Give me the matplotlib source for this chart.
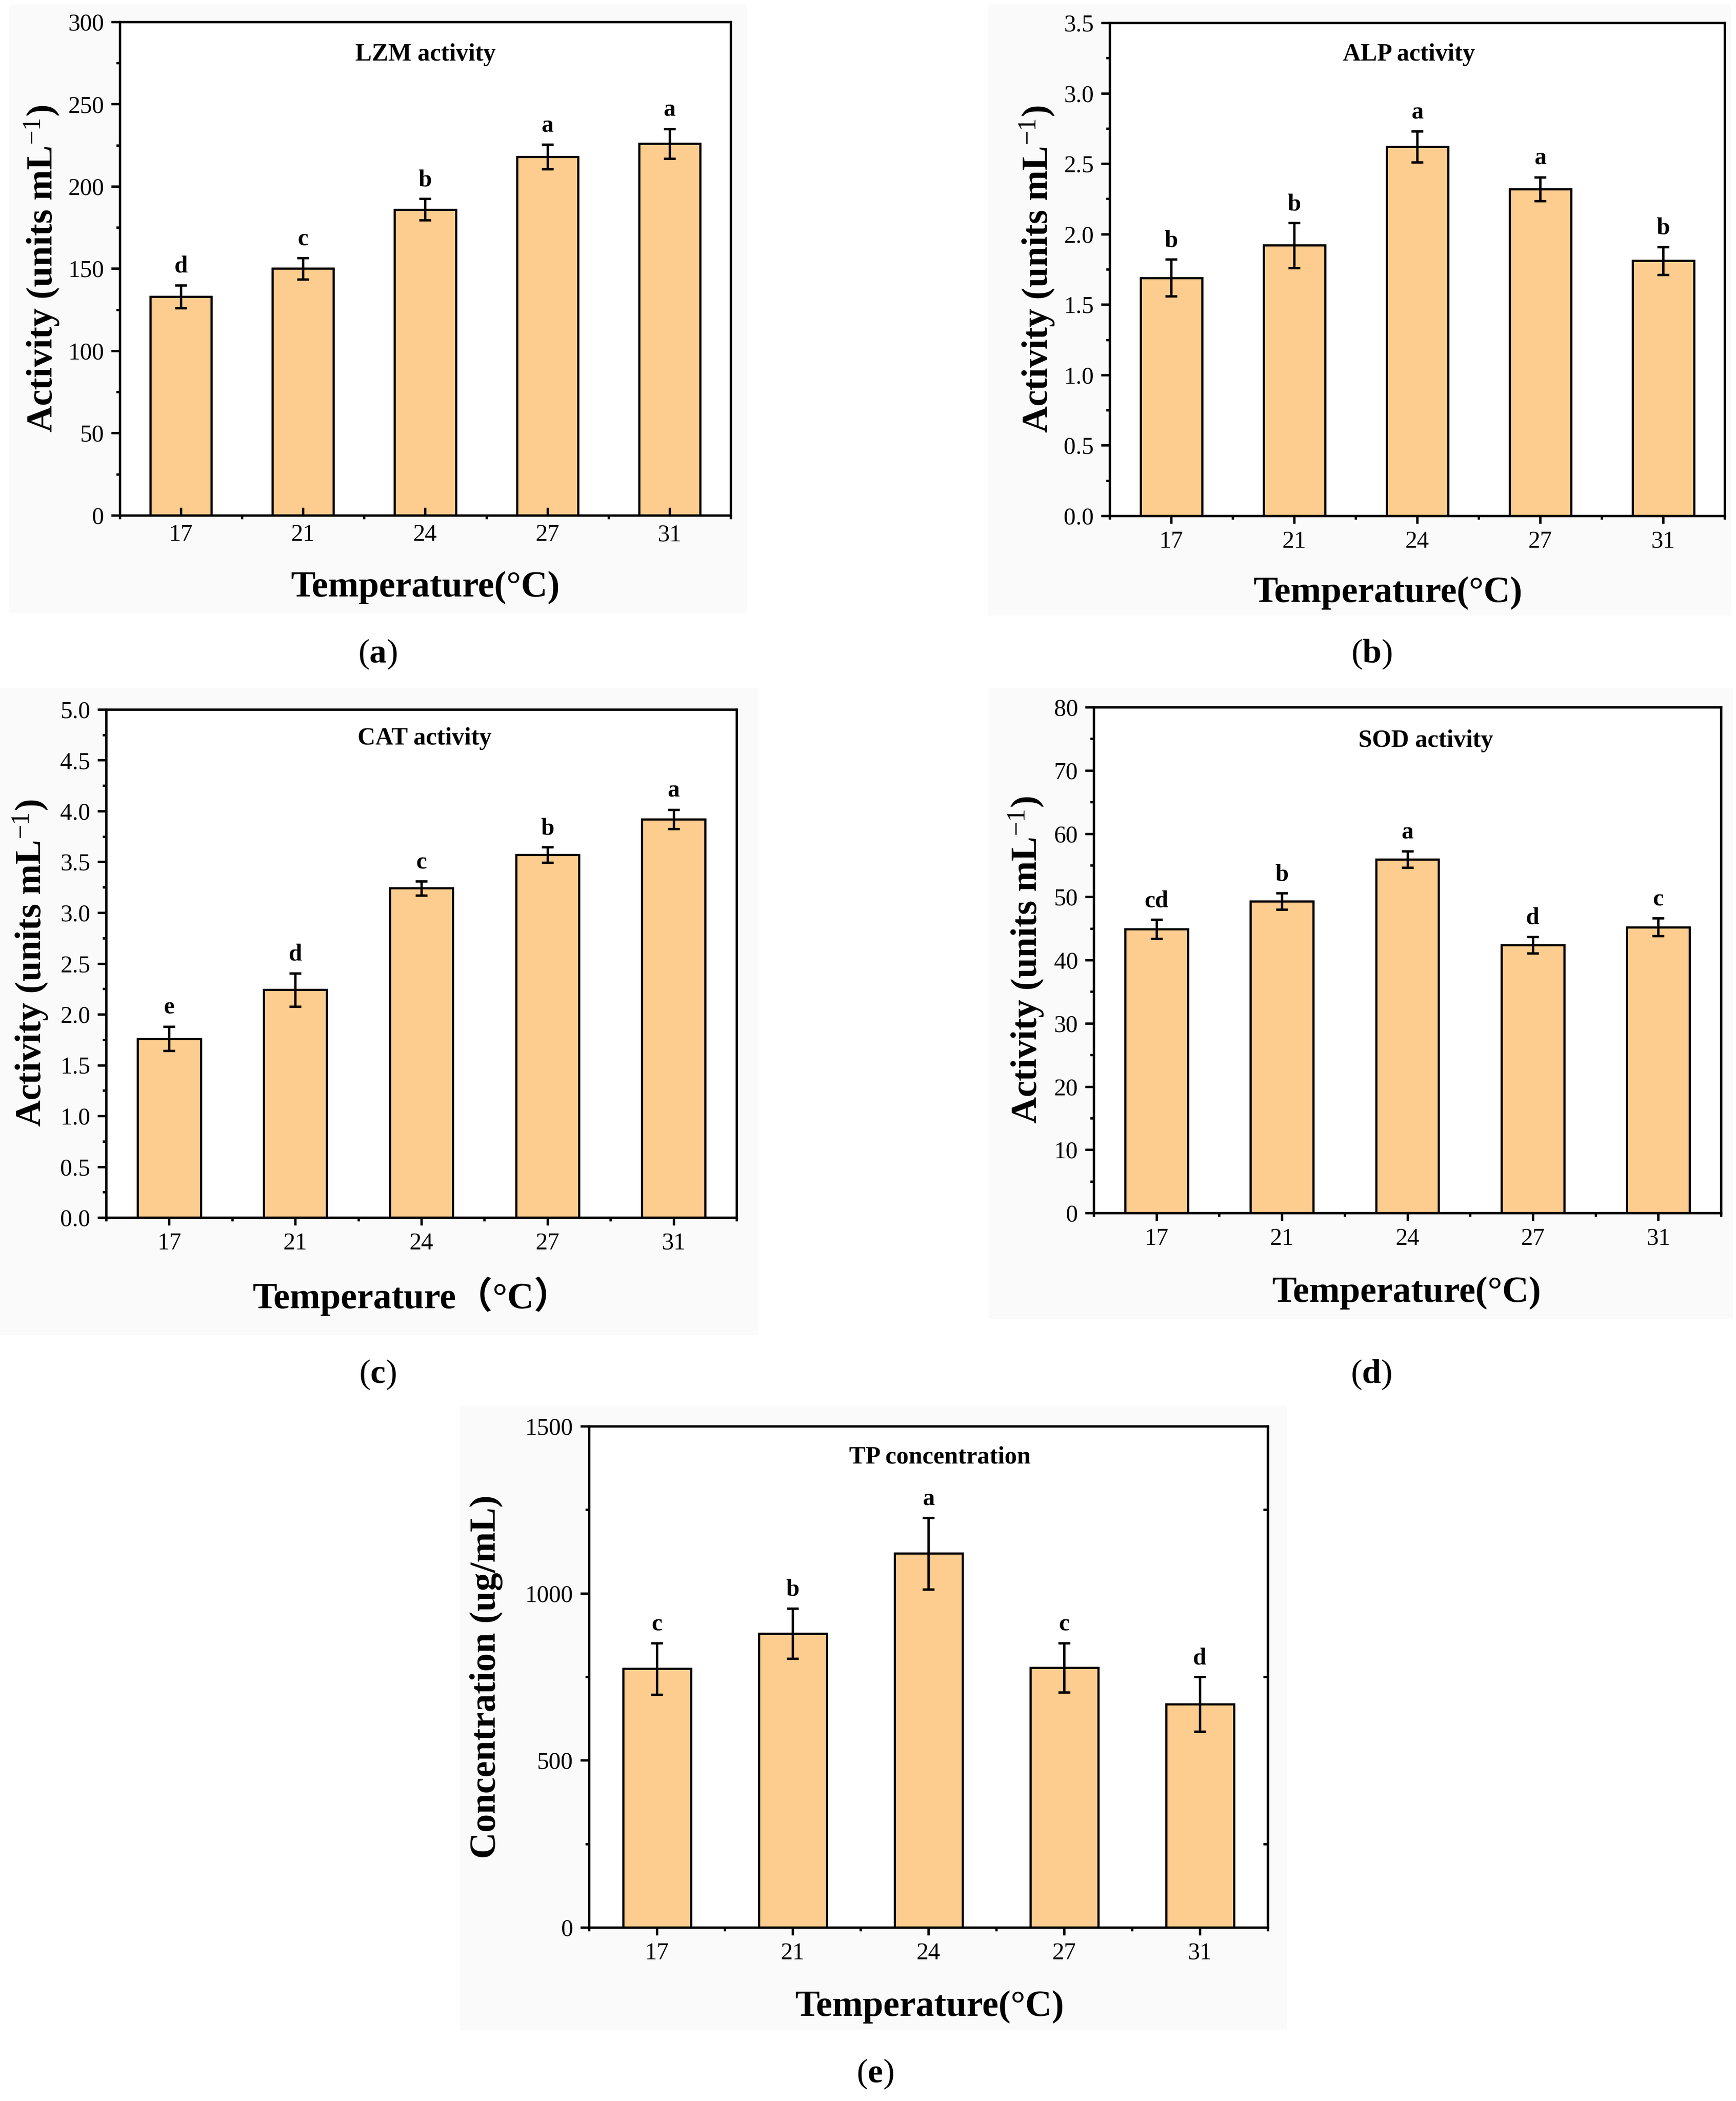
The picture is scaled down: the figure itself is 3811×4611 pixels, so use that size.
import numpy as np
import matplotlib.pyplot as plt
from matplotlib.ticker import MultipleLocator, FixedLocator, FormatStrFormatter
from matplotlib.patches import Rectangle

plt.rcParams['font.family'] = ['Liberation Serif', 'Noto Sans CJK SC']
plt.rcParams['mathtext.fontset'] = 'custom'
plt.rcParams['mathtext.rm'] = 'Liberation Serif'
plt.rcParams['mathtext.bf'] = 'Liberation Serif:bold'
plt.rcParams['mathtext.it'] = 'Liberation Serif:italic'

# data
temps = ['17', '21', '24', '27', '31']

lzm_mean = [133, 150, 186, 218, 226]
lzm_err = [7, 6.5, 6.5, 7.5, 9]
lzm_letters = ['d', 'c', 'b', 'a', 'a']

alp_mean = [1.69, 1.92, 2.62, 2.32, 1.81]
alp_err = [0.13, 0.16, 0.11, 0.085, 0.10]
alp_letters = ['b', 'b', 'a', 'a', 'b']

cat_mean = [1.76, 2.24, 3.24, 3.57, 3.92]
cat_err = [0.12, 0.165, 0.07, 0.075, 0.095]
cat_letters = ['e', 'd', 'c', 'b', 'a']

sod_mean = [44.9, 49.3, 55.9, 42.4, 45.2]
sod_err = [1.5, 1.3, 1.3, 1.3, 1.4]
sod_letters = ['cd', 'b', 'a', 'd', 'c']

tp_mean = [774, 880, 1119, 777, 668]
tp_err = [77, 75, 107, 74, 82]
tp_letters = ['c', 'b', 'a', 'c', 'd']

W, H = 3811, 4611
fig = plt.figure(figsize=(W / 100, H / 100), dpi=100)
fig.patch.set_facecolor('white')

bar_color = '#FDCD8F'
lw = 3.8


def fx(x):
    return x / W


def fy(y):
    return 1 - y / H


def background(x0, y0, x1, y1):
    fig.add_artist(Rectangle((fx(x0), fy(y1)), (x1 - x0) / W, (y1 - y0) / H,
                             transform=fig.transFigure, facecolor='#fafafa',
                             edgecolor='none', zorder=-5))


def panel(box, mean, err, letters, ymax, major, fmt, title, ylabel, xlabel,
          caption, title_xy, ylabel_xy, xlabel_xy, caption_xy,
          xdir='out', xpad=11.5, right_ticks=None):
    L, T, R, B = box
    ax = fig.add_axes([fx(L), fy(B), (R - L) / W, (B - T) / H])
    x = np.arange(1, len(temps) + 1)
    ax.bar(x, mean, width=0.5, color=bar_color, edgecolor='black', linewidth=3.4,
           yerr=err, error_kw=dict(ecolor='black', elinewidth=lw, capsize=9.4,
                                   capthick=lw, zorder=3))
    for xi, m, e, t in zip(x, mean, err, letters):
        ax.annotate(t, (xi, m + e), xytext=(0, 20), textcoords='offset points',
                    ha='center', va='baseline', fontsize=38, fontweight='bold')
    ax.set_xlim(0.5, 5.5)
    ax.set_ylim(0, ymax)
    ax.set_xticks(x)
    ax.set_xticklabels(temps)
    ax.xaxis.set_minor_locator(FixedLocator(np.arange(0.5, 6.0, 1.0)))
    ax.yaxis.set_major_locator(MultipleLocator(major))
    ax.yaxis.set_minor_locator(MultipleLocator(major / 2))
    ax.yaxis.set_major_formatter(FormatStrFormatter(fmt))
    for s in ax.spines.values():
        s.set_linewidth(lw)
    ax.tick_params(axis='x', which='major', direction=xdir, length=12, width=lw,
                   pad=xpad, labelsize=38)
    ax.tick_params(axis='x', which='minor', direction='out', length=6, width=lw)
    ax.tick_params(axis='y', which='major', direction='out', length=14, width=lw,
                   pad=11, labelsize=38)
    ax.tick_params(axis='y', which='minor', direction='out', length=6, width=lw)
    if right_ticks is not None:
        sec = ax.secondary_yaxis('right')
        sec.set_yticks(right_ticks)
        sec.set_yticklabels([])
        sec.tick_params(direction='in', length=7, width=lw)
        sec.spines['right'].set_linewidth(lw)

    fig.text(fx(title_xy[0]), fy(title_xy[1]), title, ha='center', va='center',
             fontsize=39, fontweight='bold')
    fig.text(fx(ylabel_xy[0]), fy(ylabel_xy[1]), ylabel, ha='center', va='center',
             rotation=90, fontsize=58, fontweight='bold')
    fig.text(fx(xlabel_xy[0]), fy(xlabel_xy[1]), xlabel, ha='center', va='center',
             fontsize=58, fontweight='bold')
    fig.text(fx(caption_xy[0]), fy(caption_xy[1]), caption, ha='center', va='center',
             fontsize=54)
    return ax


act_label = r'Activity (units mL$^{-1}$)'
temp_label = 'Temperature(°C)'

background(20, 10, 1640, 1345)
background(2168, 10, 3800, 1351)
background(0, 1510, 1665, 2930)
background(2170, 1510, 3805, 2895)
background(1010, 3085, 2825, 4455)

panel((263, 48, 1604, 1131), lzm_mean, lzm_err, lzm_letters, 300, 50, '%d',
      'LZM activity', act_label, temp_label, r'($\mathbf{a}$)',
      (934, 120), (92, 590), (934, 1290), (829, 1436), xdir='in', xpad=14)

panel((2436, 50, 3786, 1132), alp_mean, alp_err, alp_letters, 3.5, 0.5, '%.1f',
      'ALP activity', act_label, temp_label, r'($\mathbf{b}$)',
      (3093, 120), (2277, 591), (3047, 1302), (3011, 1436))

panel((233, 1557, 1617, 2672), cat_mean, cat_err, cat_letters, 5.0, 0.5, '%.1f',
      'CAT activity', act_label, 'Temperature（°C）', r'($\mathbf{c}$)',
      (932, 1621), (67, 2114), (904, 2845), (829, 3017))

panel((2401, 1552, 3778, 2662), sod_mean, sod_err, sod_letters, 80, 10, '%d',
      'SOD activity', act_label, temp_label, r'($\mathbf{d}$)',
      (3130, 1626), (2253, 2107), (3088, 2838), (3010, 3017))

panel((1293, 3130, 2783, 4230), tp_mean, tp_err, tp_letters, 1500, 500, '%d',
      'TP concentration', 'Concentration (ug/mL)', temp_label, r'($\mathbf{e}$)',
      (2063, 3199), (1067, 3680), (2041, 4405), (1921, 4552),
      right_ticks=[250, 750, 1250])

fig.savefig('out.png', dpi=100)
